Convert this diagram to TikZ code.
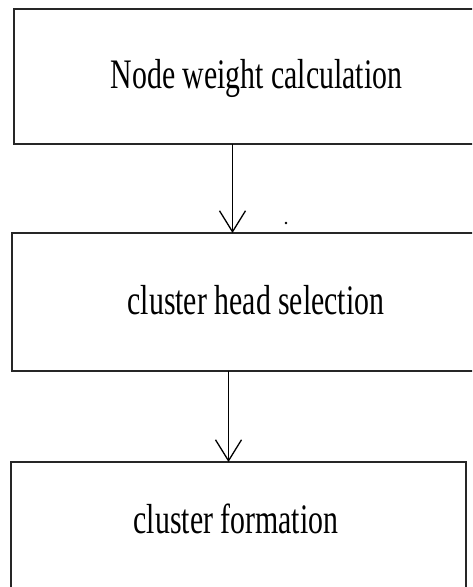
\documentclass[tikz,border=0pt]{standalone}
\usepackage{fontspec}
\setmainfont{Liberation Serif}
\usetikzlibrary{arrows.meta}
\begin{document}
\begin{tikzpicture}[x=1pt,y=-1pt,
  box/.style={draw=black!85, line width=2.4pt, rectangle, inner sep=0pt, outer sep=0pt},
  lbl/.style={anchor=base, inner sep=0pt, font=\fontsize{42}{42}\selectfont},
  conn/.style={draw=black, line width=1.5pt, -{Straight Barb[length=21pt,width=26pt,line width=1.3pt]}}]
\clip (0,0) rectangle (472,587);
\fill[white] (0,0) rectangle (472,587);
% boxes
\node[box, minimum width=485pt, minimum height=135pt] (b1) at (256.5,76.5) {};
\node[box, minimum width=488pt, minimum height=138pt] (b2) at (256,302) {};
\node[box, minimum width=455pt, minimum height=150pt] (b3) at (238.5,537) {};
% labels
\node[lbl] (t1) at (256.5,88) {\scalebox{0.71}[1]{Node weight calculation}};
\node[lbl] (t2) at (256,314) {\scalebox{0.71}[1]{cluster head selection}};
\node[lbl] (t3) at (236,533) {\scalebox{0.71}[1]{cluster formation}};
% connectors
\coordinate (x1) at (232.5,0);
\coordinate (x2) at (228.5,0);
\draw[conn] (b1.south -| x1) -- (b2.north -| x1);
\draw[conn] (b2.south -| x2) -- (b3.north -| x2);
% stray dot
\fill (286,223) circle (1.4pt);
\end{tikzpicture}
\end{document}
